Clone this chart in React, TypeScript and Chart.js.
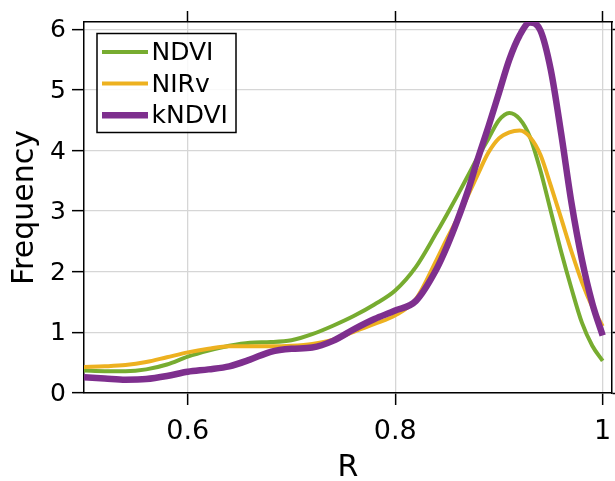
import React, { useEffect, useRef } from "react";
import { Chart, registerables } from "chart.js";

Chart.register(...registerables);

// ---- data ----
const xValues = [
  0.5, 0.52, 0.54, 0.56, 0.58, 0.6, 0.62, 0.64, 0.66, 0.68, 0.7, 0.72, 0.74, 0.76, 0.78, 0.8, 0.82, 0.84,
  0.85, 0.86, 0.87, 0.88, 0.89, 0.9, 0.91, 0.92, 0.93, 0.94, 0.95, 0.96, 0.97, 0.98, 0.99, 1.0,
];
const ndvi = [
  0.37, 0.36, 0.36, 0.39, 0.47, 0.6, 0.7, 0.78, 0.83, 0.84, 0.87, 0.97, 1.11, 1.27, 1.46, 1.69, 2.08, 2.65,
  2.95, 3.26, 3.58, 3.9, 4.2, 4.5, 4.62, 4.52, 4.22, 3.67, 3.0, 2.33, 1.72, 1.16, 0.78, 0.53,
];
const nirv = [
  0.43, 0.44, 0.46, 0.51, 0.59, 0.67, 0.73, 0.77, 0.77, 0.77, 0.78, 0.81, 0.88, 1.01, 1.14, 1.28, 1.55, 2.2,
  2.55, 2.88, 3.25, 3.62, 3.97, 4.2, 4.3, 4.33, 4.22, 3.93, 3.42, 2.88, 2.33, 1.83, 1.42, 1.1,
];
const kndvi = [
  0.26, 0.24, 0.22, 0.23, 0.28, 0.35, 0.39, 0.44, 0.55, 0.68, 0.73, 0.75, 0.86, 1.05, 1.22, 1.36, 1.52, 2.05,
  2.42, 2.85, 3.33, 3.88, 4.4, 4.95, 5.5, 5.9, 6.11, 5.98, 5.33, 4.28, 3.13, 2.2, 1.48, 0.95,
];
const seriesNames = ["NDVI", "NIRv", "kNDVI"];
const xTicks = [0.6, 0.8, 1.0];
const xTickLabels = ["0.6", "0.8", "1"];
const yTicks = [0, 1, 2, 3, 4, 5, 6];
const yTickLabels = ["0", "1", "2", "3", "4", "5", "6"];
const xTitle = "R";
const yTitle = "Frequency";

const FONT = "DejaVu Sans";
const GRID = "#d6d6d6";

const labelFor = (ticks: number[], labels: string[], v: number) => {
  const i = ticks.findIndex((t) => Math.abs(t - v) < 1e-9);
  return i >= 0 ? labels[i] : "";
};

const noPad = (s: any) => {
  s.paddingLeft = 0;
  s.paddingRight = 0;
  s.paddingTop = 0;
  s.paddingBottom = 0;
};

const boxLegend = {
  id: "boxLegend",
  afterDraw(chart: any) {
    const ctx = chart.ctx;
    const ca = chart.chartArea;
    const x0 = ca.left + 13;
    const y0 = ca.top + 11.5;
    const w = 139;
    const h = 99;
    ctx.save();
    ctx.fillStyle = "rgba(255,255,255,0.85)";
    ctx.fillRect(x0, y0, w, h);
    ctx.strokeStyle = "#000";
    ctx.lineWidth = 1.5;
    ctx.strokeRect(x0, y0, w, h);
    chart.data.datasets.forEach((ds: any, i: number) => {
      const rowY = y0 + 18.5 + i * 31.6;
      ctx.strokeStyle = ds.borderColor;
      ctx.lineWidth = ds.borderWidth;
      ctx.lineCap = "butt";
      ctx.beginPath();
      ctx.moveTo(x0 + 5, rowY);
      ctx.lineTo(x0 + 51, rowY);
      ctx.stroke();
      ctx.fillStyle = "#000";
      ctx.font = `25px "${FONT}"`;
      ctx.textBaseline = "middle";
      ctx.textAlign = "left";
      ctx.fillText(ds.label, x0 + 54.5, rowY + 1.5);
    });
    ctx.restore();
  },
};

export default function App() {
  const ref = useRef<HTMLCanvasElement>(null);
  useEffect(() => {
    const mk = (ys: number[]) => xValues.map((x, i) => ({ x, y: ys[i] }));
    const colors = ["#77AC30", "#EDB120", "#7E2F8E"];
    const widths = [4, 4, 6.5];
    const series = [ndvi, nirv, kndvi];
    const chart = new Chart(ref.current as HTMLCanvasElement, {
      type: "line",
      data: {
        datasets: series.map((s, i) => ({
          label: seriesNames[i],
          data: mk(s),
          borderColor: colors[i],
          backgroundColor: colors[i],
          borderWidth: widths[i],
          pointRadius: 0,
          fill: false,
          cubicInterpolationMode: "monotone",
          borderJoinStyle: "round",
          order: 3 - i,
          xAxisID: "x",
          yAxisID: "y",
        })),
      },
      options: {
        animation: false,
        responsive: false,
        events: [],
        layout: { padding: 0, autoPadding: false },
        plugins: { legend: { display: false }, tooltip: { enabled: false } },
        scales: {
          x: {
            type: "linear",
            position: "bottom",
            min: 0.5,
            max: 1.009,
            afterBuildTicks: (s: any) => {
              s.ticks = xTicks.map((v) => ({ value: v }));
            },
            afterFit: (s: any) => {
              s.height = 88;
              noPad(s);
            },
            ticks: {
              callback: (v: any) => labelFor(xTicks, xTickLabels, Number(v)),
              color: "#000",
              font: { family: FONT, size: 27, lineHeight: 1.2 },
              padding: 11,
              maxRotation: 0,
              autoSkip: false,
            },
            grid: { color: GRID, lineWidth: 1.3, tickColor: "#000", tickWidth: 1.5, tickLength: 12 },
            border: { display: true, color: "#000", width: 1.5 },
            title: {
              display: true,
              text: xTitle,
              color: "#000",
              font: { family: FONT, size: 30, lineHeight: 1 },
              padding: { top: 0, bottom: -2 },
            },
          },
          x2: {
            type: "linear",
            position: "top",
            min: 0.5,
            max: 1.009,
            afterBuildTicks: (s: any) => {
              s.ticks = xTicks.map((v) => ({ value: v }));
            },
            afterFit: (s: any) => {
              s.height = 22;
              noPad(s);
            },
            ticks: { display: false },
            grid: { drawOnChartArea: false, color: GRID, tickColor: "#000", tickWidth: 1.5, tickLength: 11 },
            border: { display: true, color: "#000", width: 1.5 },
          },
          y: {
            type: "linear",
            position: "left",
            min: 0,
            max: 6.12,
            afterBuildTicks: (s: any) => {
              s.ticks = yTicks.map((v) => ({ value: v }));
            },
            afterFit: (s: any) => {
              s.width = 84;
              noPad(s);
            },
            ticks: {
              callback: (v: any) => labelFor(yTicks, yTickLabels, Number(v)),
              color: "#000",
              font: { family: FONT, size: 25 },
              padding: 6,
              labelOffset: 1.5,
              autoSkip: false,
            },
            grid: { color: GRID, lineWidth: 1.3, tickColor: "#000", tickWidth: 1.5, tickLength: 12 },
            border: { display: true, color: "#000", width: 1.5 },
            title: {
              display: true,
              text: yTitle,
              color: "#000",
              font: { family: FONT, size: 30, lineHeight: 1.2 },
              padding: { top: 7, bottom: 0 },
            },
          },
          y2: {
            type: "linear",
            position: "right",
            min: 0,
            max: 6.12,
            afterBuildTicks: (s: any) => {
              s.ticks = yTicks.map((v) => ({ value: v }));
            },
            afterFit: (s: any) => {
              s.width = 3;
              noPad(s);
            },
            ticks: { display: false },
            grid: { drawOnChartArea: false, color: GRID, tickColor: "#000", tickWidth: 1.5, tickLength: 11 },
            border: { display: true, color: "#000", width: 1.5 },
          },
        },
      } as any,
      plugins: [boxLegend],
    });
    return () => chart.destroy();
  }, []);
  return (
    <div style={{ position: "absolute", left: 0, top: 0, width: 615, height: 481, background: "#fff" }}>
      <canvas ref={ref} width={615} height={481} style={{ display: "block" }} />
    </div>
  );
}
